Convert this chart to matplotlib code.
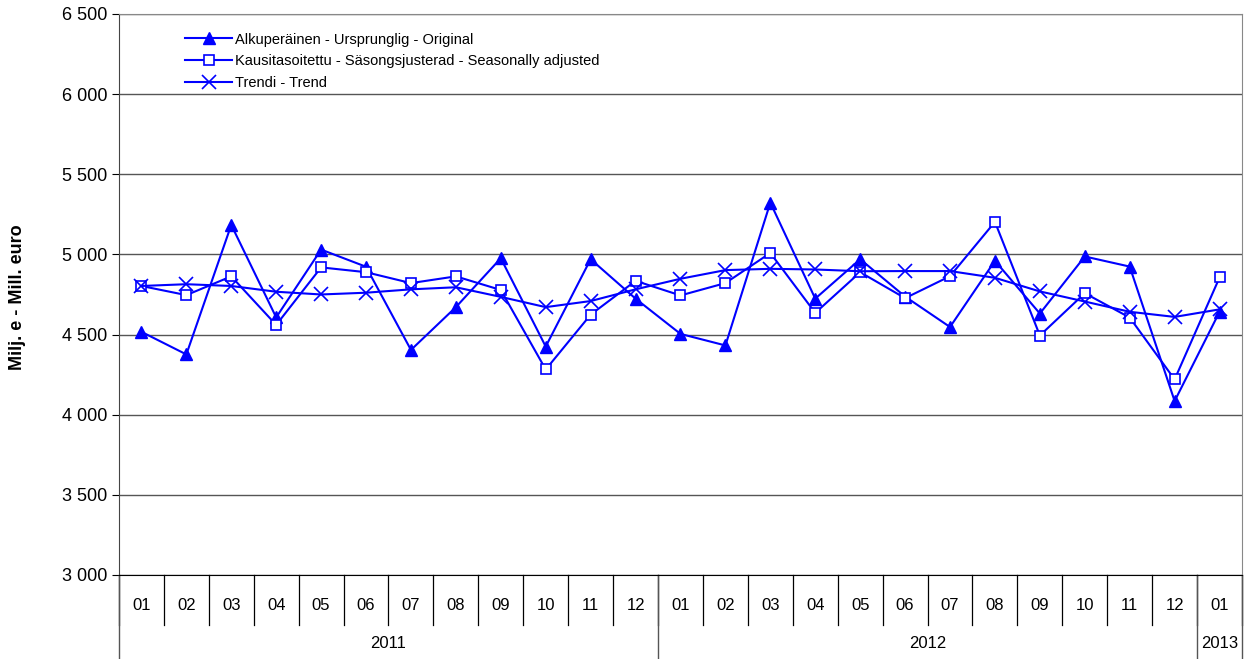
import matplotlib
matplotlib.use("Agg")
from matplotlib import pyplot as plt
from matplotlib.ticker import FuncFormatter, MultipleLocator

plt.rcParams['font.family'] = ['Liberation Sans', 'DejaVu Sans']

# monthly data 2011-01 .. 2013-01
months = ['01', '02', '03', '04', '05', '06', '07', '08', '09', '10', '11', '12',
          '01', '02', '03', '04', '05', '06', '07', '08', '09', '10', '11', '12',
          '01']
years = ['2011', '2012', '2013']
year_counts = [12, 12, 1]

original = [4517, 4376, 5184, 4607, 5030, 4923, 4404, 4671, 4976, 4425, 4970, 4724,
            4504, 4432, 5323, 4724, 4970, 4737, 4547, 4960, 4631, 4987, 4924, 4085,
            4642]
seasonal = [4803, 4746, 4863, 4560, 4919, 4889, 4821, 4863, 4778, 4282, 4624, 4835,
            4744, 4821, 5009, 4635, 4889, 4727, 4864, 5203, 4494, 4758, 4606, 4220,
            4856]
trend = [4803, 4814, 4803, 4767, 4750, 4761, 4782, 4795, 4735, 4671, 4709, 4782,
         4848, 4902, 4910, 4906, 4895, 4896, 4896, 4854, 4769, 4706, 4642, 4610,
         4657]

labels = ['Alkuperäinen - Ursprunglig - Original',
          'Kausitasoitettu - Säsongsjusterad - Seasonally adjusted',
          'Trendi - Trend']

blue = '#0000FF'
fig = plt.figure(figsize=(12.47, 6.59), dpi=100)
ax = fig.add_axes([0.0954, 0.1275, 0.9006, 0.8513])

x = list(range(len(months)))
ax.plot(x, original, color=blue, lw=1.5, marker='^', ms=8, mfc=blue, mec=blue, label=labels[0])
ax.plot(x, seasonal, color=blue, lw=1.5, marker='s', ms=7, mfc='white', mec=blue, mew=1.2, label=labels[1])
ax.plot(x, trend, color=blue, lw=1.5, marker='x', ms=10, mew=1.2, label=labels[2])

ax.set_xlim(-0.5, len(months) - 0.5)
ax.set_ylim(3000, 6500)
ax.yaxis.set_major_locator(MultipleLocator(500))
ax.yaxis.set_major_formatter(FuncFormatter(lambda v, p: '{:,}'.format(int(v)).replace(',', ' ')))
ax.grid(axis='y', color='#555555', lw=1)
ax.set_axisbelow(True)
ax.tick_params(axis='y', length=5, labelsize=13, colors='#000000')
for s in ['top', 'right']:
    ax.spines[s].set_color('#888888')
ax.spines['left'].set_color('#444444')
ax.spines['bottom'].set_color('#000000')

# y label placed in figure coords so it is not cut off
fig.text(0.014, 0.549, 'Milj. e - Mill. euro', rotation=90, ha='center', va='center',
         fontsize=13, fontweight='bold')

# two level category axis
ax.set_xticks([])
trans = ax.get_xaxis_transform()
for i, m in enumerate(months):
    ax.text(i, -0.054, m, transform=trans, ha='center', va='center', fontsize=12)
for k in range(len(months) + 1):
    ax.plot([k - 0.5, k - 0.5], [0, -0.089], transform=trans, color='#000000', lw=0.9, clip_on=False)
start = 0
bounds = [-0.5]
for yr, n in zip(years, year_counts):
    ax.text(start + (n - 1) / 2, -0.123, yr, transform=trans, ha='center', va='center', fontsize=12)
    start += n
    bounds.append(start - 0.5)
for b in bounds:
    ax.plot([b, b], [0, -0.15], transform=trans, color='#555555', lw=1, clip_on=False)

leg = ax.legend(loc='upper left', bbox_to_anchor=(0.05, 0.985), frameon=False, fontsize=10.5,
                handlelength=3.2, handletextpad=0.2, labelspacing=0.52, borderpad=0.2)

fig.savefig('out.png', dpi=100)
